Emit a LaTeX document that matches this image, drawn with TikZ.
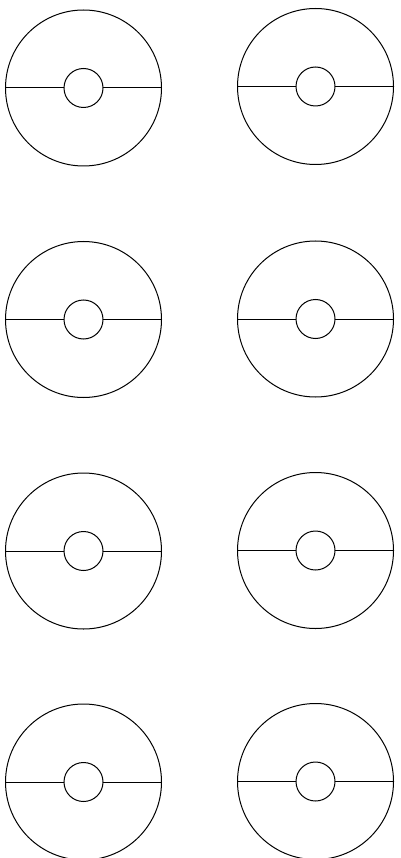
\documentclass[tikz,border=0pt]{standalone}
\begin{document}
\begin{tikzpicture}[x=1pt,y=-1pt,
  outer/.style={circle,draw,line width=1pt,minimum size=156pt,inner sep=0pt,outer sep=0pt},
  hub/.style={circle,draw,line width=1pt,minimum size=39pt,inner sep=0pt,outer sep=0pt},
  spoke/.style={line width=1pt}]
\useasboundingbox (0,0) rectangle (400,858);
\foreach \n/\x/\y in {1/83.5/88, 2/315.5/86.5, 3/83.5/319.5, 4/315.5/319, 5/83.5/551, 6/315.5/550.5, 7/83.5/782, 8/315.5/781.5}{
  \node[outer] (o\n) at (\x,\y) {};
  \node[hub] (h\n) at (\x,\y) {};
  \draw[spoke] (o\n.west) -- (h\n.west);
  \draw[spoke] (h\n.east) -- (o\n.east);
}
\end{tikzpicture}
\end{document}
